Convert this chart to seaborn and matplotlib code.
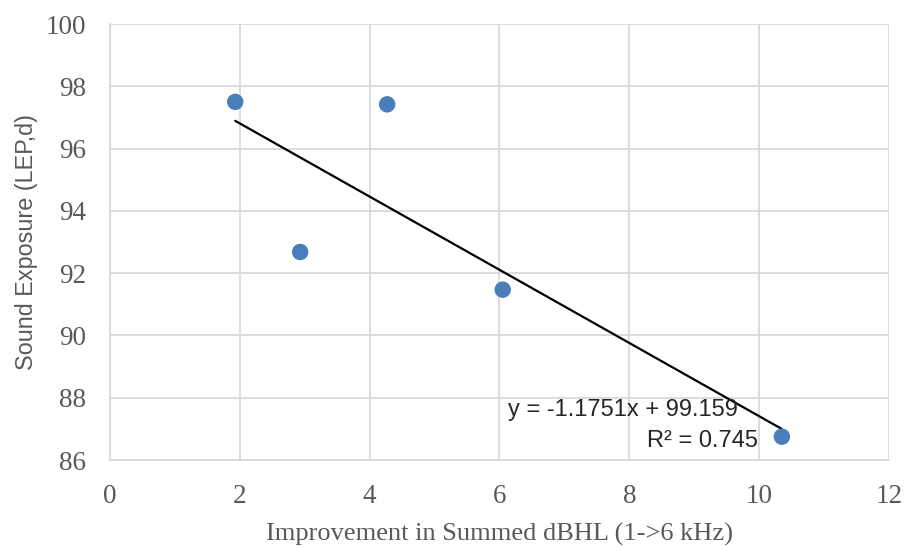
import matplotlib
matplotlib.use("Agg")
import numpy as np
import pandas as pd
import matplotlib.pyplot as plt
import seaborn as sns

# ============================================
# Data
# ============================================
improvement = [1.93, 2.93, 4.27, 6.05, 10.35]
exposure = [97.5, 92.68, 97.42, 91.47, 86.75]
slope = -1.1751
intercept = 99.159
r_squared = 0.745
x_ticks = [0, 2, 4, 6, 8, 10, 12]
y_ticks = [86, 88, 90, 92, 94, 96, 98, 100]

df = pd.DataFrame({"improvement": improvement, "exposure": exposure})
trend_x = np.array([min(improvement), max(improvement)])
trend_df = pd.DataFrame({"x": trend_x, "y": slope * trend_x + intercept})

# ============================================
# Plot
# ============================================
sns.set_style("white")
GRID = "#D9D9D9"
TEXT = "#595959"

fig = plt.figure(figsize=(9.05, 5.47), dpi=100)
ax = fig.add_axes([0.1215, 0.159, 0.8608, 0.7971])

sns.lineplot(data=trend_df, x="x", y="y", color="black", linewidth=1.6, ax=ax, zorder=3)
sns.scatterplot(data=df, x="improvement", y="exposure", color="#4A7EBB",
                s=140, edgecolor="none", ax=ax, zorder=4)

ax.set_xlim(0, 12)
ax.set_ylim(86, 100)
ax.set_xticks(x_ticks)
ax.set_yticks(y_ticks)
ax.grid(True, color=GRID, linewidth=1.3)
ax.set_axisbelow(True)
for side in ["top", "right"]:
    ax.spines[side].set_visible(False)
for side in ["left", "bottom"]:
    ax.spines[side].set_color(GRID)
    ax.spines[side].set_linewidth(1.3)
ax.tick_params(axis="y", length=0, pad=17, labelcolor=TEXT, labelsize=19.5)
ax.tick_params(axis="x", length=0, pad=17, labelcolor=TEXT, labelsize=19.5)
for lbl in ax.get_xticklabels() + ax.get_yticklabels():
    lbl.set_family("Liberation Serif")

ax.set_xlabel("Improvement in Summed dBHL (1->6 kHz)", family="Liberation Serif",
              fontsize=19, color=TEXT, labelpad=10)
ax.set_ylabel("Sound Exposure (LEP,d)", family="Liberation Sans",
              fontsize=16.8, color=TEXT, labelpad=6)

ax.text(6.13, 87.62, f"y = {slope}x + {intercept}", family="Liberation Sans",
        fontsize=17, color="#262626", ha="left", va="center")
ax.text(9.98, 86.6, f"R² = {r_squared}", family="Liberation Sans",
        fontsize=17, color="#262626", ha="right", va="center")

fig.savefig("out.png", dpi=100)
plt.close(fig)
